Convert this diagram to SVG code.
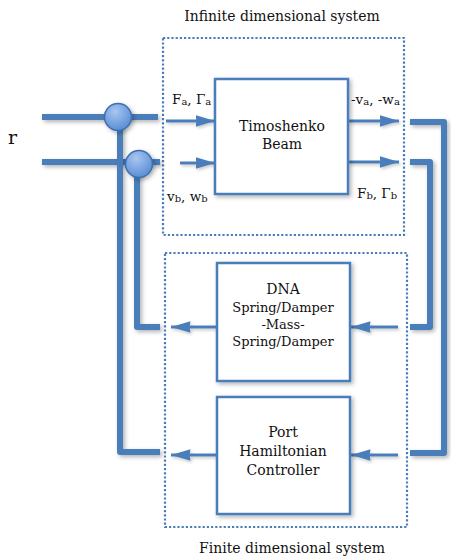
<svg xmlns="http://www.w3.org/2000/svg" width="451" height="559" viewBox="0 0 451 559">
<defs>
<style>
.t{font-family:"DejaVu Serif","Liberation Serif",serif;fill:#111;}
.box{fill:#fff;stroke:#4a7ebb;stroke-width:2.5;}
.dot{fill:none;stroke:#4a7ebb;stroke-width:2.2;stroke-dasharray:2.2 2;}
.thick{fill:none;stroke:#4a7ebb;stroke-width:6;stroke-linejoin:round;}
.arr{fill:none;stroke:#4a7ebb;stroke-width:3;}
</style>
<marker id="ah" viewBox="0 0 20 12" refX="20" refY="6" markerWidth="6.5" markerHeight="4" markerUnits="strokeWidth" orient="auto">
<path d="M0,0 L20,6 L0,12 L1,6 Z" fill="#4a7ebb"/>
</marker>
<radialGradient id="cg" cx="0.4" cy="0.3" r="0.8">
<stop offset="0" stop-color="#a9c6f0"/>
<stop offset="1" stop-color="#4f86d2"/>
</radialGradient>
<filter id="sh" filterUnits="userSpaceOnUse" x="0" y="0" width="451" height="559">
<feDropShadow dx="2" dy="2" stdDeviation="2" flood-color="#000" flood-opacity="0.3"/>
</filter>
<filter id="sh2" filterUnits="userSpaceOnUse" x="0" y="0" width="451" height="559">
<feDropShadow dx="1.5" dy="2" stdDeviation="1.5" flood-color="#000" flood-opacity="0.2"/>
</filter>
</defs>
<rect width="451" height="559" fill="#fff"/>

<g id="infinite-system">
<rect class="dot" x="163" y="38" width="241" height="197"/>
<text class="t" x="282" y="21" font-size="14" text-anchor="middle">Infinite dimensional system</text>
</g>
<g id="finite-system">
<rect class="dot" x="165" y="253" width="242" height="274"/>
<text class="t" x="292" y="553" font-size="14" text-anchor="middle">Finite dimensional system</text>
</g>

<g id="connectors">
<path class="thick" filter="url(#sh)" d="M42,117 H158"/>
<path class="thick" filter="url(#sh)" d="M42,162 H160"/>
<path class="thick" filter="url(#sh)" d="M120,117 V452 H160"/>
<path class="thick" filter="url(#sh)" d="M137,162 V327 H160"/>
<path class="thick" filter="url(#sh)" d="M410,122 H444 V453 H410"/>
<path class="thick" filter="url(#sh)" d="M410,162 H430 V327 H410"/>
<g filter="url(#sh2)">
<path class="arr" marker-end="url(#ah)" d="M166,121 H215"/>
<path class="arr" marker-end="url(#ah)" d="M180,163 H215"/>
<path class="arr" marker-end="url(#ah)" d="M348,121 H399"/>
<path class="arr" marker-end="url(#ah)" d="M348,162 H399"/>
<path class="arr" marker-end="url(#ah)" d="M398,327 H351"/>
<path class="arr" marker-end="url(#ah)" d="M217,327 H171"/>
<path class="arr" marker-end="url(#ah)" d="M398,455 H351"/>
<path class="arr" marker-end="url(#ah)" d="M217,455 H171"/>
</g>
</g>

<g id="sum1">
<circle cx="118" cy="117" r="13.5" fill="url(#cg)" stroke="#3d6fae" stroke-width="1.5" filter="url(#sh)"/>
</g>
<g id="sum2">
<circle cx="139" cy="164" r="13.5" fill="url(#cg)" stroke="#3d6fae" stroke-width="1.5" filter="url(#sh)"/>
</g>

<g id="r-label">
<text class="t" x="8" y="144" font-size="19">r</text>
</g>

<g id="timoshenko">
<rect class="box" filter="url(#sh)" x="215" y="79" width="133" height="115"/>
<text class="t" x="282" y="131" font-size="14" text-anchor="middle">Timoshenko</text>
<text class="t" x="282" y="149" font-size="14" text-anchor="middle">Beam</text>
</g>

<g id="port-labels">
<text class="t" x="172" y="104" font-size="13.5">F<tspan font-size="10" dy="1">a</tspan><tspan dy="-1">, Γ</tspan><tspan font-size="10" dy="1">a</tspan></text>
<text class="t" x="351" y="104" font-size="13.5">-v<tspan font-size="10" dy="1">a</tspan><tspan dy="-1">, -w</tspan><tspan font-size="10" dy="1">a</tspan></text>
<text class="t" x="167" y="201" font-size="13.5">v<tspan font-size="10" dy="1">b</tspan><tspan dy="-1">, w</tspan><tspan font-size="10" dy="1">b</tspan></text>
<text class="t" x="357" y="198" font-size="13.5">F<tspan font-size="10" dy="1">b</tspan><tspan dy="-1">, Γ</tspan><tspan font-size="10" dy="1">b</tspan></text>
</g>

<g id="dna">
<rect class="box" filter="url(#sh)" x="217" y="263" width="133" height="118"/>
<text class="t" x="283" y="294" font-size="14" text-anchor="middle">DNA</text>
<text class="t" x="283" y="312" font-size="13" text-anchor="middle">Spring/Damper</text>
<text class="t" x="283" y="329" font-size="13" text-anchor="middle">-Mass-</text>
<text class="t" x="283" y="346" font-size="13" text-anchor="middle">Spring/Damper</text>
</g>

<g id="port-hamiltonian">
<rect class="box" filter="url(#sh)" x="217" y="397" width="133" height="117"/>
<text class="t" x="283" y="437" font-size="14" text-anchor="middle">Port</text>
<text class="t" x="283" y="456" font-size="14" text-anchor="middle">Hamiltonian</text>
<text class="t" x="283" y="475" font-size="14" text-anchor="middle">Controller</text>
</g>
</svg>
